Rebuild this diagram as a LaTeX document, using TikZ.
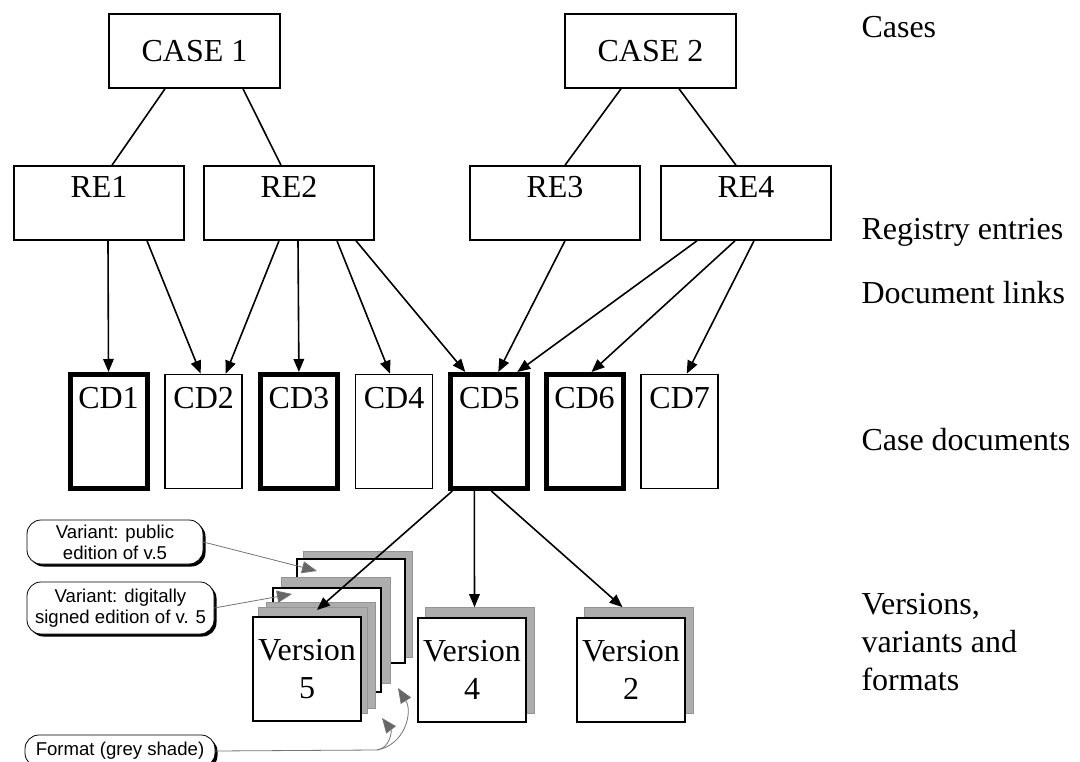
\documentclass[tikz,border=0pt]{standalone}
\usepackage{fontspec}
\setmainfont{Liberation Serif}
\setsansfont{Liberation Sans}
\usetikzlibrary{arrows.meta, positioning, calc, shadows}

\newcommand{\diagfont}{\fontsize{32pt}{38pt}\selectfont}
\newcommand{\verfont}{\fontsize{32pt}{38pt}\selectfont}
\newcommand{\notefont}{\sffamily\fontsize{18.6pt}{21pt}\selectfont}

\begin{document}
\begin{tikzpicture}
  [
  x=1pt, y=-1pt,
  casebox/.style = {rectangle, draw, line width=1.6pt, minimum width=171pt,
    minimum height=74pt, font=\diagfont},
  % registry entry, text near the top
  regbox/.style = {casebox, minimum width=170pt, text height=21pt, text depth=31pt},
  % case documents
  docbox/.style = {rectangle, draw, fill=white, minimum width=77pt,
    minimum height=114pt, text height=21pt, text depth=68pt, font=\diagfont},
  docthin/.style = {docbox, line width=1.5pt},
  docthick/.style = {docbox, line width=5pt},
  % versions
  verbox/.style = {rectangle, draw, fill=white, line width=2pt, minimum width=108pt,
    minimum height=104pt, align=center, font=\verfont},
  fmtlayer/.style = {rectangle, fill=black!32, draw=black!42, line width=.6pt,
    minimum width=109pt, minimum height=106pt},
  % callouts
  notebox/.style = {rectangle, rounded corners=14pt, draw, line width=.8pt, fill=white,
    align=center, font=\notefont, inner sep=2pt,
    drop shadow={shadow xshift=2.5pt, shadow yshift=-2.5pt, fill=black, opacity=1}},
  lane/.style = {anchor=west, align=left, font=\verfont},
  % lines
  tie/.style = {draw, line width=1.6pt},
  link/.style = {draw, line width=1.6pt, -{Triangle[length=13pt, width=10.5pt]}},
  pointer/.style = {draw=black!55, line width=.8pt,
    -{Triangle[length=15pt, width=12pt, fill=black!60]}},
  ]

  \useasboundingbox (0,0) rectangle (1080,762);

  % cases and registry entries
  \node [casebox] (case1) at (194.5,51) {CASE 1};
  \node [casebox] (case2) at (650.5,51) {CASE 2};
  \node [regbox] (re1) at (99,203) {RE1};
  \node [regbox] (re2) at (289,203) {RE2};
  \node [regbox] (re3) at (555,203) {RE3};
  \node [regbox] (re4) at (746,203) {RE4};

  % case documents
  \node [docthick] (cd1) at (108.5,431.5) {CD1};
  \node [docthin] (cd2) at (203.7,431.5) {CD2};
  \node [docthick] (cd3) at (298.9,431.5) {CD3};
  \node [docthin] (cd4) at (394.1,431.5) {CD4};
  \node [docthick] (cd5) at (489.3,431.5) {CD5};
  \node [docthick] (cd6) at (584.5,431.5) {CD6};
  \node [docthin] (cd7) at (679.7,431.5) {CD7};

  % version 5 with its variants and formats, back to front
  \node [fmtlayer] (v5backfmt) at (358,604) {};
  \node [verbox] (v5back) at (351,611) {};
  \node [fmtlayer] (v5midfmt) at (335.5,630) {};
  \node [verbox] (v5mid) at (327,640) {};
  \node [fmtlayer] (v5fmtb) at (320.5,655) {};
  \node [fmtlayer] (v5fmta) at (313,660.5) {};
  \node [verbox] (v5) at (307,669) {Version\\5};

  \node [fmtlayer] (v4fmt) at (479.5,660.5) {};
  \node [verbox] (v4) at (472,669.5) {Version\\4};
  \node [fmtlayer] (v2fmt) at (638.5,660.5) {};
  \node [verbox] (v2) at (631,669.5) {Version\\2};

  % callouts
  \node [notebox, minimum width=176pt, minimum height=44pt] (note1) at (115,542)
  {Variant: public\\edition of v.5};
  \node [notebox, minimum width=187pt, minimum height=52pt] (note2) at (120.5,608)
  {Variant: digitally\\signed edition of v. 5};
  \node [notebox, minimum width=190pt, minimum height=32pt] (fmt) at (120,751)
  {Format (grey shade)};

  % level names
  \node [lane] (lcases) at (858,27) {Cases};
  \node [lane] (lreg) at (858,232) {Registry entries};
  \node [lane] (llinks) at (858,293) {Document links};
  \node [lane] (ldocs) at (858,440) {Case documents};
  \node [lane] (lver) at (858,642) {Versions,\\variants and\\formats};

  % path
  \path [tie] ([xshift=-29.5pt]case1.south) -- ([xshift=13pt]re1.north);
  \path [tie] ([xshift=48.5pt]case1.south) -- ([xshift=-8pt]re2.north);
  \path [tie] ([xshift=-29.5pt]case2.south) -- ([xshift=10pt]re3.north);
  \path [tie] ([xshift=28.5pt]case2.south) -- ([xshift=-10pt]re4.north);

  \path [link] ([xshift=9pt]re1.south) -- (cd1.north);
  \path [link] ([xshift=48pt]re1.south) -- ([xshift=-3pt]cd2.north);
  \path [link] ([xshift=-10pt]re2.south) -- ([xshift=22pt]cd2.north);
  \path [link] ([xshift=9pt]re2.south) -- (cd3.north);
  \path [link] ([xshift=48pt]re2.south) -- ([xshift=-4pt]cd4.north);
  \path [link] ([xshift=67pt]re2.south) -- ([xshift=-24pt]cd5.north);
  \path [link] ([xshift=10pt]re3.south) -- ([xshift=9pt]cd5.north);
  \path [link] ([xshift=-49pt]re4.south) -- ([xshift=28pt]cd5.north);
  \path [link] ([xshift=-11pt]re4.south) -- ([xshift=7pt]cd6.north);
  \path [link] ([xshift=8pt]re4.south) -- ([xshift=7pt]cd7.north);

  \path [link] ([xshift=-37pt]cd5.south) -- ([xshift=10pt, yshift=6pt]v5.north);
  \path [link] ([xshift=-15pt]cd5.south) -- ([xshift=-5pt]v4fmt.north);
  \path [link] ([xshift=2pt]cd5.south) -- ([xshift=-16pt]v2fmt.north);

  % pointers from the callouts
  \coordinate (fmtbend) at (377,750);
  \coordinate (fmttipa) at (382,718);
  \coordinate (fmttipb) at (398,688);
  \path [pointer] (note1.east) -- ([xshift=21pt, yshift=-13pt]v5back.north west);
  \path [pointer] (note2.east) -- ([xshift=20pt, yshift=-7pt]v5mid.north west);
  \path [pointer] (fmt.east) -- (fmtbend) .. controls (390,748) and (392,731) .. (fmttipa);
  \path [pointer] (fmtbend) .. controls (405,745) and (413,712) .. (fmttipb);

\end{tikzpicture}
\end{document}
